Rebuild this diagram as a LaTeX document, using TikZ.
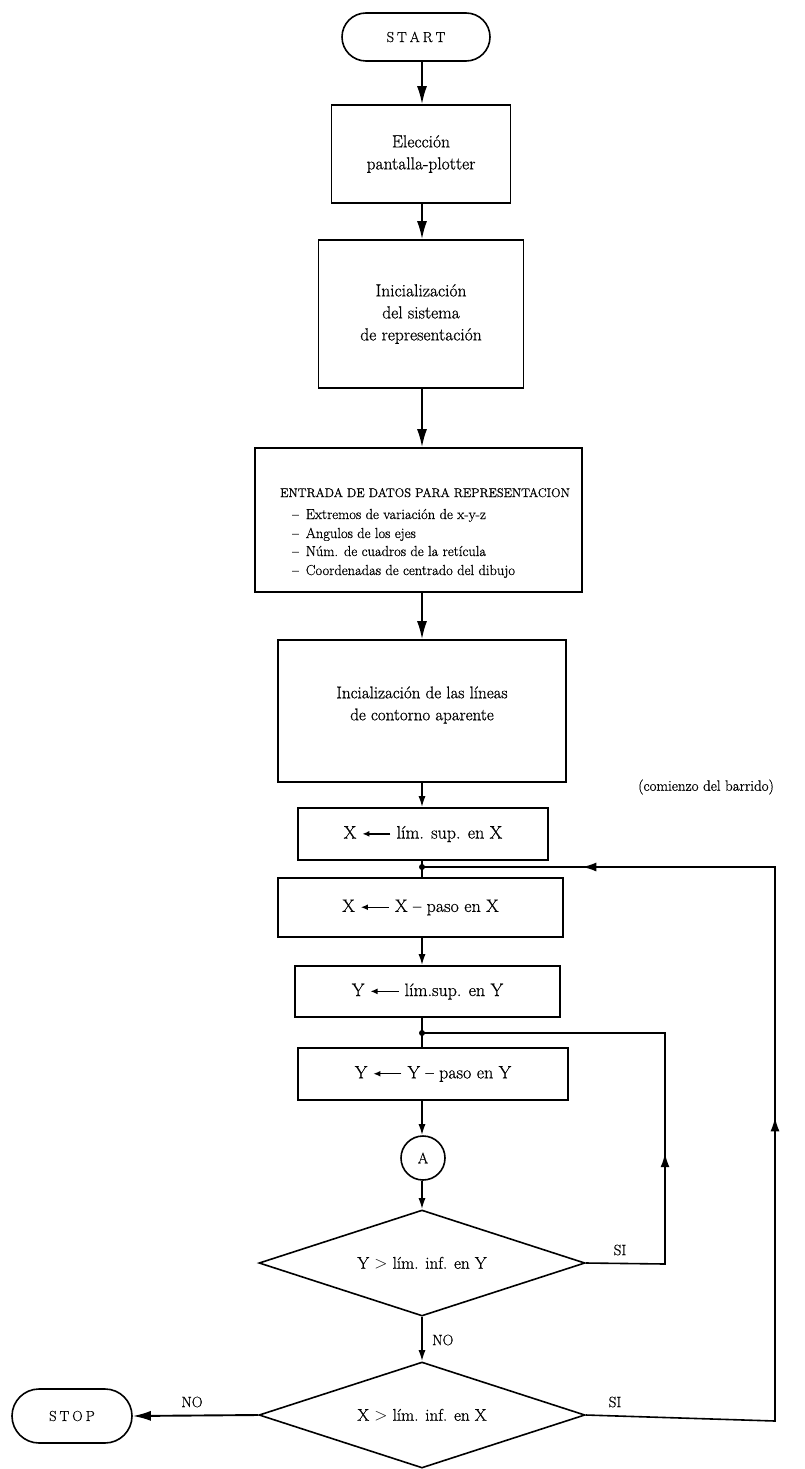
\documentclass[tikz,border=0pt]{standalone}
\usepackage{fontspec}
\setmainfont{Latin Modern Roman}[FakeBold=0.7]
\usetikzlibrary{arrows.meta,shapes.geometric,shapes.misc,decorations.markings}
\newcommand{\lar}{\tikz[baseline=-0.6ex]\draw[line width=1.4pt,-{Latex[length=7pt,width=6pt]}] (0,0)--(-28pt,0);}
\begin{document}
\begin{tikzpicture}[x=1pt,y=-1pt,
  box/.style={draw, line width=1.6pt, rectangle, align=center, inner sep=2pt, font=\fontsize{17.5}{22}\selectfont},
  opbox/.style={box, font=\fontsize{18}{22}\selectfont},
  term/.style={draw, line width=1.6pt, rounded rectangle, inner sep=0pt, font=\fontsize{14.5}{17}\selectfont},
  dec/.style={draw, line width=1.6pt, diamond, aspect=3, inner sep=0pt, minimum width=326pt, minimum height=106pt, font=\fontsize{17}{20}\selectfont},
  conn/.style={draw, line width=1.6pt, circle, inner sep=0pt, minimum size=44pt, font=\fontsize{15}{17}\selectfont},
  arr/.style={line width=1.9pt, -{Latex[length=18pt,width=10pt]}},
  sarr/.style={line width=1.7pt, -{Latex[length=11pt,width=7pt]}},
  flow/.style={line width=1.6pt},
  lbl/.style={font=\fontsize{15}{18}\selectfont, inner sep=0pt},
  itm/.style={font=\fontsize{14.5}{17}\selectfont, inner sep=0pt, anchor=base west},
  txt/.style={align=center, inner sep=0pt},
  jdot/.style={circle, fill, inner sep=0pt, minimum size=6pt},
]
\useasboundingbox (0,0) rectangle (805,1469);

\node[term, minimum width=148pt, minimum height=48pt] (start) at (416,37) {S\kern3pt T\kern3pt A\kern3pt R\kern3pt T};
\node[box, minimum width=179pt, minimum height=98pt] (b1) at (421,154) {Elección\\pantalla-plotter};
\node[box, minimum width=205pt, minimum height=148pt] (b2) at (421,314) {Inicialización\\del sistema\\de representación};
\node[box, minimum width=327pt, minimum height=144pt] (b3) at (418.5,520) {};
\node[font=\fontsize{12.5}{15}\selectfont, inner sep=0pt, anchor=base] (t3) at (425,497) {ENTRADA DE DATOS PARA REPRESENTACION};
\node[itm] (i1) at (292,519) {--\hspace{7pt}Extremos de variación de x-y-z};
\node[itm] (i2) at (292,538) {--\hspace{7pt}Angulos de los ejes};
\node[itm] (i3) at (292,556) {--\hspace{7pt}Núm. de cuadros de la retícula};
\node[itm] (i4) at (292,575) {--\hspace{7pt}Coordenadas de centrado del dibujo};
\node[box, minimum width=288pt, minimum height=142pt] (b4) at (422,711) {};
\node[txt, font=\fontsize{17}{22}\selectfont] (t4) at (422,705) {Incialización de las líneas\\de contorno aparente};
\node[opbox, minimum width=250pt, minimum height=52pt] (b5) at (423,834) {X \lar{} lím. sup. en X};
\node[opbox, minimum width=285pt, minimum height=59pt] (b6) at (420.5,907.5) {X \lar{} X -- paso en X};
\node[opbox, minimum width=265pt, minimum height=51pt] (b7) at (427.5,991.5) {Y \lar{} lím.sup. en Y};
\node[opbox, minimum width=270pt, minimum height=52pt] (b8) at (433,1074) {Y \lar{} Y -- paso en Y};
\node[conn] (A) at (423,1158) {A};
\node[dec] (d1) at (422,1263) {Y $>$ lím. inf. en Y};
\node[dec] (d2) at (422,1415) {X $>$ lím. inf. en X};
\node[term, minimum width=120pt, minimum height=54pt] (stop) at (72,1416) {S\kern3pt T\kern3pt O\kern3pt P};

\node[jdot] (j1) at (422,867) {};
\node[jdot] (j2) at (422,1033) {};

\node[lbl, anchor=west] (com) at (638,787) {(comienzo del barrido)};
\node[lbl] (si1) at (620,1250) {SI};
\node[lbl, anchor=west] (no1) at (432,1340) {NO};
\node[lbl] (si2) at (615,1402) {SI};
\node[lbl] (no2) at (192,1402) {NO};

\draw[arr] (start.south -| j1) -- (b1.north -| j1);
\draw[arr] (b1.south -| j1) -- (b2.north -| j1);
\draw[arr] (b2.south -| j1) -- (b3.north -| j1);
\draw[arr] (b3.south -| j1) -- (b4.north -| j1);
\draw[sarr] (b4.south -| j1) -- (b5.north -| j1);
\draw[flow] (b5.south -| j1) -- (j1.center) -- (b6.north -| j1);
\draw[sarr] (b6.south -| j1) -- (b7.north -| j1);
\draw[flow] (b7.south -| j1) -- (j2.center) -- (b8.north -| j1);
\draw[sarr] (b8.south -| j1) -- (A.north -| j1);
\draw[sarr] (A.south -| j1) -- (d1.north);
\draw[sarr] (d1.south) -- (d2.north);
\draw[arr] (d2.west) -- (stop.east);

\draw[flow, postaction={decorate}, decoration={markings, mark=at position 190pt with {\arrow{Latex[length=14pt,width=9pt]}}}]
  (d1.east) -- (665,1264) -- (665,1033) -- (j2.center);
\draw[flow, postaction={decorate}, decoration={markings,
    mark=at position 493pt with {\arrow{Latex[length=14pt,width=9pt]}},
    mark=at position 936pt with {\arrow{Latex[length=14pt,width=9pt]}}}]
  (d2.east) -- (775,1421) -- (775,867) -- (j1.center);
\end{tikzpicture}
\end{document}
